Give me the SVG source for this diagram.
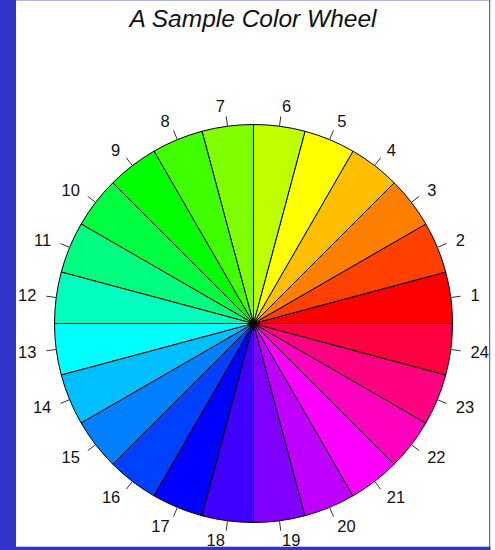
<svg xmlns="http://www.w3.org/2000/svg" width="495" height="550" viewBox="0 0 495 550">
<style>
.s{stroke:#000;stroke-width:1;stroke-linejoin:round}
.t{stroke:#333;stroke-width:1;fill:none}
.l{font-family:"Liberation Sans",Arial,sans-serif;font-size:16.5px;fill:#111}
.e{text-anchor:end}
.title{font-family:"Liberation Sans",Arial,sans-serif;font-size:24.5px;font-style:italic;fill:#111;text-anchor:middle}
</style>
<rect x="0" y="0" width="495" height="550" fill="#fff"/>
<text class="title" x="253" y="26.5">A Sample Color Wheel</text>
<g id="wheel">
<g id="slice1"><path class="s" fill="#FF0000" d="M253.5 323.5 L452.5 323.5 A199 199 0 0 0 445.72 272 Z"/><text class="l" x="470.53" y="300.83">1</text></g>
<g id="slice2"><path class="s" fill="#FF4000" d="M253.5 323.5 L445.72 272 A199 199 0 0 0 425.84 224 Z"/><text class="l" x="455.74" y="245.63">2</text></g>
<g id="slice3"><path class="s" fill="#FF8000" d="M253.5 323.5 L425.84 224 A199 199 0 0 0 394.21 182.79 Z"/><text class="l" x="427.16" y="196.14">3</text></g>
<g id="slice4"><path class="s" fill="#FFBF00" d="M253.5 323.5 L394.21 182.79 A199 199 0 0 0 353 151.16 Z"/><text class="l" x="386.76" y="155.74">4</text></g>
<g id="slice5"><path class="s" fill="#FFFF00" d="M253.5 323.5 L353 151.16 A199 199 0 0 0 305 131.28 Z"/><text class="l" x="337.27" y="127.16">5</text></g>
<g id="slice6"><path class="s" fill="#BFFF00" d="M253.5 323.5 L305 131.28 A199 199 0 0 0 253.5 124.5 Z"/><text class="l" x="282.07" y="112.37">6</text></g>
<g id="slice7"><path class="s" fill="#80FF00" d="M253.5 323.5 L253.5 124.5 A199 199 0 0 0 202 131.28 Z"/><text class="l e" x="224.93" y="112.37">7</text></g>
<g id="slice8"><path class="s" fill="#40FF00" d="M253.5 323.5 L202 131.28 A199 199 0 0 0 154 151.16 Z"/><text class="l e" x="169.73" y="127.16">8</text></g>
<g id="slice9"><path class="s" fill="#00FF00" d="M253.5 323.5 L154 151.16 A199 199 0 0 0 112.79 182.79 Z"/><text class="l e" x="120.24" y="155.74">9</text></g>
<g id="slice10"><path class="s" fill="#00FF40" d="M253.5 323.5 L112.79 182.79 A199 199 0 0 0 81.16 224 Z"/><text class="l e" x="79.84" y="196.14">10</text></g>
<g id="slice11"><path class="s" fill="#00FF80" d="M253.5 323.5 L81.16 224 A199 199 0 0 0 61.28 272 Z"/><text class="l e" x="51.26" y="245.63">11</text></g>
<g id="slice12"><path class="s" fill="#00FFBF" d="M253.5 323.5 L61.28 272 A199 199 0 0 0 54.5 323.5 Z"/><text class="l e" x="36.47" y="300.83">12</text></g>
<g id="slice13"><path class="s" fill="#00FFFF" d="M253.5 323.5 L54.5 323.5 A199 199 0 0 0 61.28 375 Z"/><text class="l e" x="36.47" y="357.97">13</text></g>
<g id="slice14"><path class="s" fill="#00BFFF" d="M253.5 323.5 L61.28 375 A199 199 0 0 0 81.16 423 Z"/><text class="l e" x="51.26" y="413.17">14</text></g>
<g id="slice15"><path class="s" fill="#0080FF" d="M253.5 323.5 L81.16 423 A199 199 0 0 0 112.79 464.21 Z"/><text class="l e" x="79.84" y="462.66">15</text></g>
<g id="slice16"><path class="s" fill="#0040FF" d="M253.5 323.5 L112.79 464.21 A199 199 0 0 0 154 495.84 Z"/><text class="l e" x="120.24" y="503.06">16</text></g>
<g id="slice17"><path class="s" fill="#0000FF" d="M253.5 323.5 L154 495.84 A199 199 0 0 0 202 515.72 Z"/><text class="l e" x="169.73" y="531.64">17</text></g>
<g id="slice18"><path class="s" fill="#4000FF" d="M253.5 323.5 L202 515.72 A199 199 0 0 0 253.5 522.5 Z"/><text class="l e" x="224.93" y="546.43">18</text></g>
<g id="slice19"><path class="s" fill="#8000FF" d="M253.5 323.5 L253.5 522.5 A199 199 0 0 0 305 515.72 Z"/><text class="l" x="282.07" y="546.43">19</text></g>
<g id="slice20"><path class="s" fill="#BF00FF" d="M253.5 323.5 L305 515.72 A199 199 0 0 0 353 495.84 Z"/><text class="l" x="337.27" y="531.64">20</text></g>
<g id="slice21"><path class="s" fill="#FF00FF" d="M253.5 323.5 L353 495.84 A199 199 0 0 0 394.21 464.21 Z"/><text class="l" x="386.76" y="503.06">21</text></g>
<g id="slice22"><path class="s" fill="#FF00BF" d="M253.5 323.5 L394.21 464.21 A199 199 0 0 0 425.84 423 Z"/><text class="l" x="427.16" y="462.66">22</text></g>
<g id="slice23"><path class="s" fill="#FF0080" d="M253.5 323.5 L425.84 423 A199 199 0 0 0 445.72 375 Z"/><text class="l" x="455.74" y="413.17">23</text></g>
<g id="slice24"><path class="s" fill="#FF0040" d="M253.5 323.5 L445.72 375 A199 199 0 0 0 452.5 323.5 Z"/><text class="l" x="470.53" y="357.97">24</text></g>
</g>
<g id="connectors" class="t">
<line x1="450.80" y1="297.52" x2="460.66" y2="296.23"/>
<line x1="437.35" y1="247.35" x2="446.54" y2="243.54"/>
<line x1="411.38" y1="202.36" x2="419.27" y2="196.30"/>
<line x1="374.64" y1="165.62" x2="380.70" y2="157.73"/>
<line x1="329.65" y1="139.65" x2="333.46" y2="130.46"/>
<line x1="279.48" y1="126.20" x2="280.77" y2="116.34"/>
<line x1="227.52" y1="126.20" x2="226.23" y2="116.34"/>
<line x1="177.35" y1="139.65" x2="173.54" y2="130.46"/>
<line x1="132.36" y1="165.62" x2="126.30" y2="157.73"/>
<line x1="95.62" y1="202.36" x2="87.73" y2="196.30"/>
<line x1="69.65" y1="247.35" x2="60.46" y2="243.54"/>
<line x1="56.20" y1="297.52" x2="46.34" y2="296.23"/>
<line x1="56.20" y1="349.48" x2="46.34" y2="350.77"/>
<line x1="69.65" y1="399.65" x2="60.46" y2="403.46"/>
<line x1="95.62" y1="444.64" x2="87.73" y2="450.70"/>
<line x1="132.36" y1="481.38" x2="126.30" y2="489.27"/>
<line x1="177.35" y1="507.35" x2="173.54" y2="516.54"/>
<line x1="227.52" y1="520.80" x2="226.23" y2="530.66"/>
<line x1="279.48" y1="520.80" x2="280.77" y2="530.66"/>
<line x1="329.65" y1="507.35" x2="333.46" y2="516.54"/>
<line x1="374.64" y1="481.38" x2="380.70" y2="489.27"/>
<line x1="411.38" y1="444.64" x2="419.27" y2="450.70"/>
<line x1="437.35" y1="399.65" x2="446.54" y2="403.46"/>
<line x1="450.80" y1="349.48" x2="460.66" y2="350.77"/>
</g>
<g id="frame">
<rect x="16" y="0" width="473" height="1" fill="#B4B4EC"/>
<rect x="489" y="0" width="1.5" height="547" fill="#6464D8"/>
<rect x="490.5" y="0" width="4.5" height="550" fill="#fff"/>
<rect x="0" y="0" width="16" height="550" fill="#3333CC"/>
<rect x="0" y="546.7" width="490.5" height="3.3" fill="#3333CC"/>
</g>
</svg>
